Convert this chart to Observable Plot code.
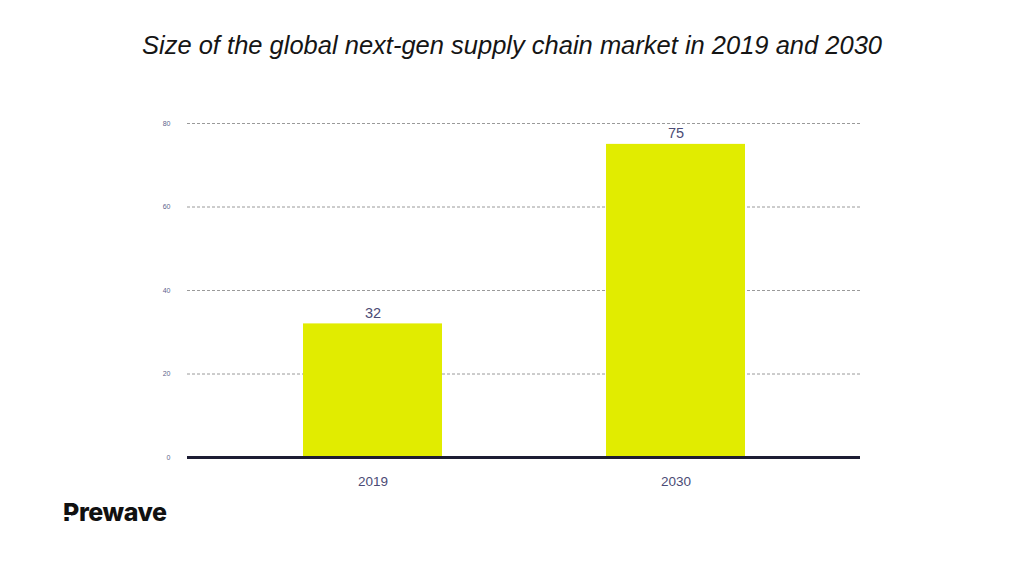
<!DOCTYPE html>
<html>
<head>
<meta charset="utf-8">
<script src="https://cdn.jsdelivr.net/npm/d3@7"></script>
<script src="https://cdn.jsdelivr.net/npm/@observablehq/plot@0.6"></script>
<style>
  html, body { margin: 0; padding: 0; background: #fff; }
  body { width: 1024px; height: 572px; position: relative; overflow: hidden; font-family: "Liberation Sans", Arial, sans-serif; }
  #title { position: absolute; left: 0; top: 30px; width: 1024px; text-align: center; font-size: 25.5px; line-height: 30px; font-style: italic; color: #151515; }
  #chart { position: absolute; left: 0; top: 90px; }
  #logo { position: absolute; left: 63px; top: 500px; font-family: Inter, "Noto Sans", sans-serif; font-weight: 800; font-size: 25px; line-height: 25px; color: #111; letter-spacing: -0.4px; }
  #logo .cut { position: absolute; left: 1px; top: 15px; width: 7px; height: 2px; background: #fff; }
</style>
</head>
<body>
<div id="title">Size of the global next-gen supply chain market in 2019 and 2030</div>
<div id="chart"></div>
<div id="logo">Prewave<span class="cut"></span></div>
<script>
const years = ["2019", "2030"];
const marketSize = [32, 75];
const yTicks = [0, 20, 40, 60, 80];

const data = years.map((y, i) => ({year: y, value: marketSize[i]}));

const chart = Plot.plot({
  width: 1024,
  height: 410,
  marginLeft: 187,
  marginRight: 164,
  marginTop: 33,
  marginBottom: 43,
  style: {fontFamily: "'Liberation Sans', Arial, sans-serif", background: "transparent"},
  x: {domain: years, paddingInner: 0.542, paddingOuter: 0.38, label: null, tickSize: 0, tickPadding: 19},
  y: {domain: [0, 80], ticks: yTicks, label: null, tickSize: 0, tickPadding: 17},
  marks: [
    Plot.ruleY(yTicks.filter(d => d > 0), {stroke: "#9a9a9a", strokeWidth: 1, strokeDasharray: "3,2"}),
    Plot.barY(data, {x: "year", y: "value", fill: "#e1ec00"}),
    Plot.text(data, {x: "year", y: "value", text: d => String(d.value), dy: -11, fill: "#4b4b75", fontSize: 14.5}),
    Plot.ruleY([0], {stroke: "#1c1c33", strokeWidth: 3}),
    Plot.axisY({ticks: yTicks, tickSize: 0, tickPadding: 17, fontSize: 7, color: "#5f5f8c", label: null}),
    Plot.axisX({tickSize: 0, tickPadding: 19, fontSize: 13.5, color: "#4b4b75", label: null})
  ]
});
document.getElementById("chart").appendChild(chart);
</script>
</body>
</html>
